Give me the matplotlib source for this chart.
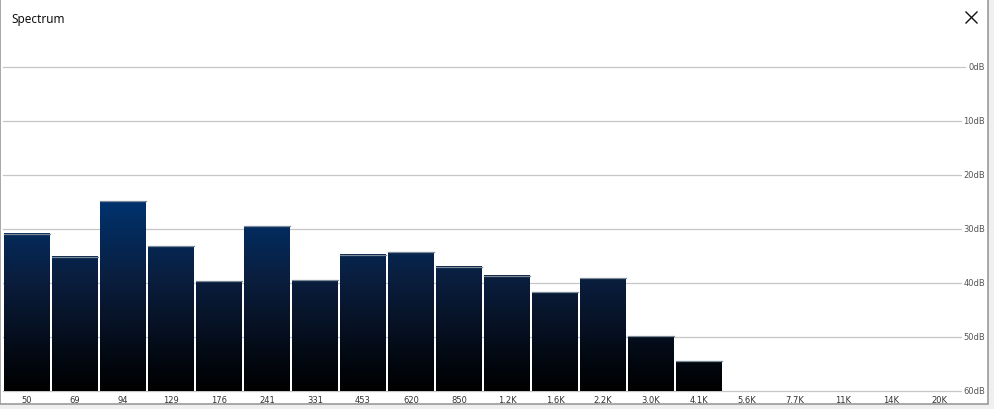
import numpy as np
import matplotlib
matplotlib.use("Agg")
import matplotlib.pyplot as plt
from matplotlib.colors import LinearSegmentedColormap
from matplotlib.patches import Rectangle
from matplotlib.lines import Line2D

# band labels and levels (dB below full scale)
bands = ["50", "69", "94", "129", "176", "241", "331", "453", "620", "850",
         "1.2K", "1.6K", "2.2K", "3.0K", "4.1K", "5.6K", "7.7K", "11K", "14K", "20K"]
levels = [30.9, 35.1, 24.9, 33.2, 39.7, 29.5, 39.5, 34.8, 34.3, 37.0,
          38.7, 41.7, 39.1, 49.9, 54.5, 60, 60, 60, 60, 60]
db_ticks = [0, 10, 20, 30, 40, 50, 60]

W, H = 994, 410
fig = plt.figure(figsize=(W / 100, H / 100), dpi=100)
fig.patch.set_facecolor("#efefef")

def px(x, y):
    return x / W, 1 - y / H

# window frame
x0, y0 = px(0, 405)
fig.patches.append(Rectangle((x0, y0), 988 / W, 405 / H, transform=fig.transFigure,
                             facecolor="white", edgecolor="#9a9a9a", lw=1.2, zorder=-5))
fig.text(11 / W, 1 - 20 / H, "Spectrum", family="Noto Sans", fontsize=8.5,
         va="center", ha="left", color="#111111")
# close button
for (a, b), (c, d) in [((966, 13), (977, 24)), ((966, 24), (977, 13))]:
    p1, p2 = px(a, b), px(c, d)
    fig.lines.append(Line2D([p1[0], p2[0]], [p1[1], p2[1]], transform=fig.transFigure,
                            color="#111111", lw=1.0))

# plot area: 0dB at y=68, 60dB at y=392, slots 48px from x=3
left, right, top, bottom = 3, 985, 68, 392
ax = fig.add_axes([left / W, 1 - bottom / H, (right - left) / W, (bottom - top) / H])
ax.set_zorder(1)
ax.patch.set_visible(False)
ax.axis("off")

grid_end = (965 - left) / 48
for t in db_ticks:
    ax.plot([0, grid_end], [t, t], color="#c6c6c6", lw=0.9, zorder=1, clip_on=False)
    ax.text(1.0, t, f"{t}dB", transform=ax.get_yaxis_transform(), ha="right",
            va="center", fontsize=6, color="#555555", clip_on=False,
            bbox=dict(facecolor="white", edgecolor="none", pad=0.6))

cmap = LinearSegmentedColormap.from_list(
    "spec", [(0, "#004a9e"), (25 / 60, "#00326d"), (40 / 60, "#0a1d3c"), (1, "#000000")])

for i, (lab, v) in enumerate(zip(bands, levels)):
    xa, xb = i + 0.03, i + 0.985
    if v < 60:
        grad = np.linspace(v, 60, 200).reshape(-1, 1)
        ax.imshow(grad, cmap=cmap, vmin=0, vmax=60, aspect="auto",
                  extent=[xa, xb, 60, v], zorder=2, interpolation="bilinear")
        ax.plot([xa, xb], [v, v], color="#7d8a98", lw=0.9, zorder=3)
    ax.text(i + 0.5, 61.5, lab, ha="center", va="center", fontsize=6,
            color="#333333", clip_on=False)

ax.set_xlim(0, (right - left) / 48)
ax.set_ylim(60, 0)

fig.savefig("out.png", dpi=100, facecolor=fig.get_facecolor())
